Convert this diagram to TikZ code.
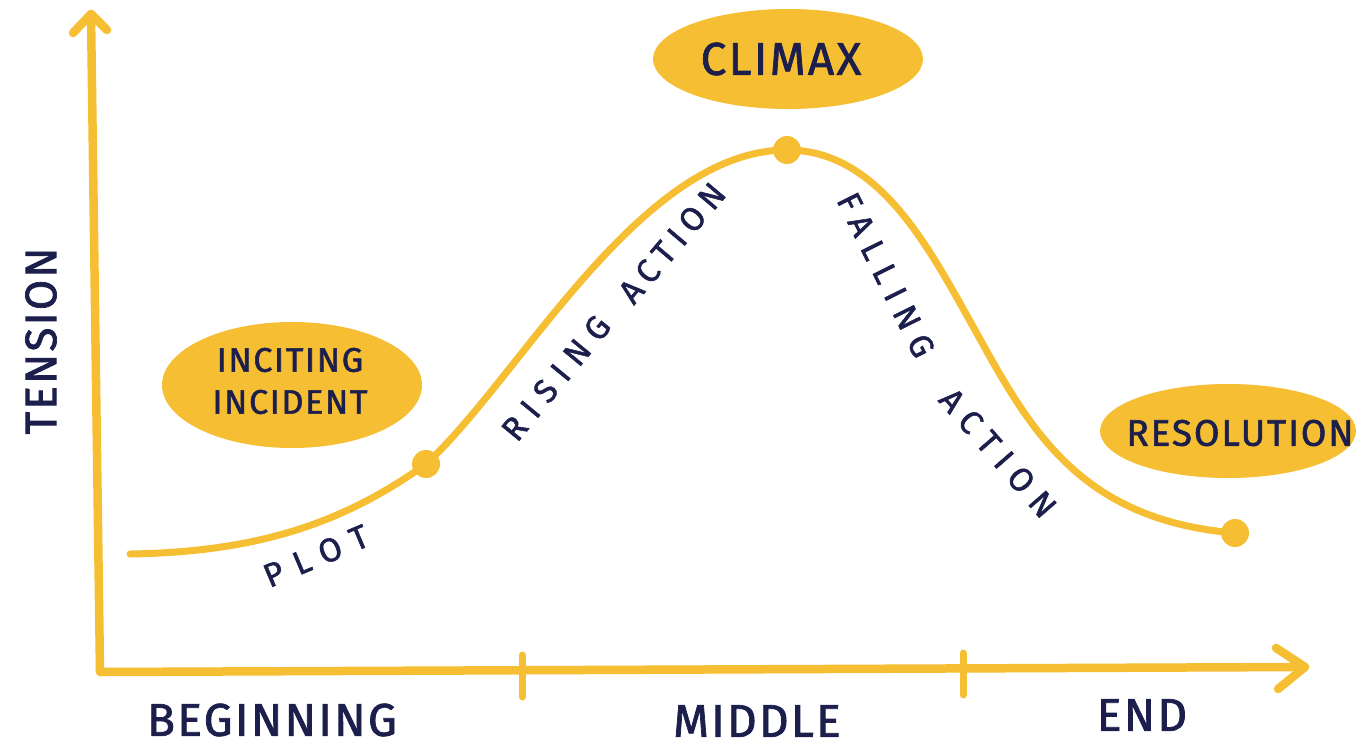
\documentclass[tikz,border=0pt]{standalone}
\usepackage{fontspec}
\setmainfont{Fira Sans}
\newfontfamily\hand{Fira Sans}[LetterSpace=5, FakeBold=1.6]
\newfontfamily\handwide{Fira Sans}[LetterSpace=30, FakeBold=1.6]
\newfontfamily\handmid{Fira Sans}[LetterSpace=22, FakeBold=1.6]
\newfontfamily\handplot{Fira Sans}[LetterSpace=38, FakeBold=1.6]
\usetikzlibrary{shapes.geometric}
\definecolor{gold}{HTML}{F6BE32}
\definecolor{ink}{HTML}{1C1F4C}
\begin{document}
\begin{tikzpicture}[x=1pt,y=-1pt,
  axisline/.style={draw=gold, line width=8.5pt, line cap=round, line join=round},
  arcline/.style={draw=gold, line width=7pt, line cap=round},
  bubble/.style={ellipse, fill=gold, inner sep=0pt},
  dot/.style={circle, fill=gold, minimum size=28pt, inner sep=0pt},
  lbl/.style={text=ink, inner sep=0pt},
  arclbl/.style={lbl, font=\handwide\fontsize{33}{36}\selectfont}]
\useasboundingbox (0,0) rectangle (1363,747);

% axes
\coordinate (origin) at (100,672);
\coordinate (ytop) at (91,14);
\coordinate (xend) at (1305,667);
\draw[axisline] (ytop) -- (origin) -- (xend);
\draw[axisline] (73,33) -- (ytop) -- (107,30);
\draw[axisline] (1276,648) -- (xend) -- (1278,689);
\coordinate (t1a) at (522,655); \coordinate (t1b) at (522,697);
\coordinate (t2a) at (963,653); \coordinate (t2b) at (963,695);
\draw[axisline, line width=7pt] (t1a) -- (t1b);
\draw[axisline, line width=7pt] (t2a) -- (t2b);

% axis labels
\node[lbl, font=\hand\fontsize{46}{50}\selectfont] (beg) at (272,720) {BEGINNING};
\node[lbl, font=\hand\fontsize{46}{50}\selectfont] (midl) at (757,721) {MIDDLE};
\node[lbl, font=\hand\fontsize{46}{50}\selectfont] (endl) at (1142,715) {END};
\node[lbl, font=\hand\fontsize{44}{50}\selectfont, rotate=90] (tension) at (41,341) {TENSION};

% story arc
\node[dot] (inc) at (426,464) {};
\node[dot] (peak) at (787,150) {};
\node[dot] (res) at (1235,533) {};
\coordinate (start) at (130,554);
\coordinate (turn) at (975,330);
\draw[arcline] (start) .. controls (260,552) and (345,522) .. (inc.center)
  .. controls (520,378) and (640,150) .. (peak.center)
  .. controls (880,150) and (930,250) .. (turn)
  .. controls (1030,430) and (1080,520) .. (res.center);

% bubbles
\node[bubble, minimum width=270pt, minimum height=100pt] (climaxb) at (788,59) {};
\node[lbl, font=\hand\fontsize{46}{50}\selectfont] (climax) at (781,59) {CLIMAX};
\node[bubble, minimum width=260pt, minimum height=126pt] (incb) at (292,385) {};
\node[lbl, align=center, font=\hand\fontsize{34}{42}\selectfont] (inctext) at (290,381) {INCITING\\INCIDENT};
\node[bubble, minimum width=256pt, minimum height=94pt] (resb) at (1228,431) {};
\node[lbl, font=\hand\fontsize{37}{44}\selectfont] (restext) at (1240,433) {RESOLUTION};

% labels along the arc
\node[lbl, font=\handplot\fontsize{33}{36}\selectfont, rotate=23] (plot) at (316,556) {PLOT};
\node[arclbl, rotate=50.6] (rising) at (556,378) {RISING};
\node[arclbl, font=\handmid\fontsize{33}{36}\selectfont, rotate=49.8] (risingact) at (672,243) {ACTION};
\node[arclbl, rotate=-63.6] (falling) at (886,275) {FALLING};
\node[arclbl, rotate=-49] (fallingact) at (998,453) {ACTION};
\end{tikzpicture}
\end{document}
